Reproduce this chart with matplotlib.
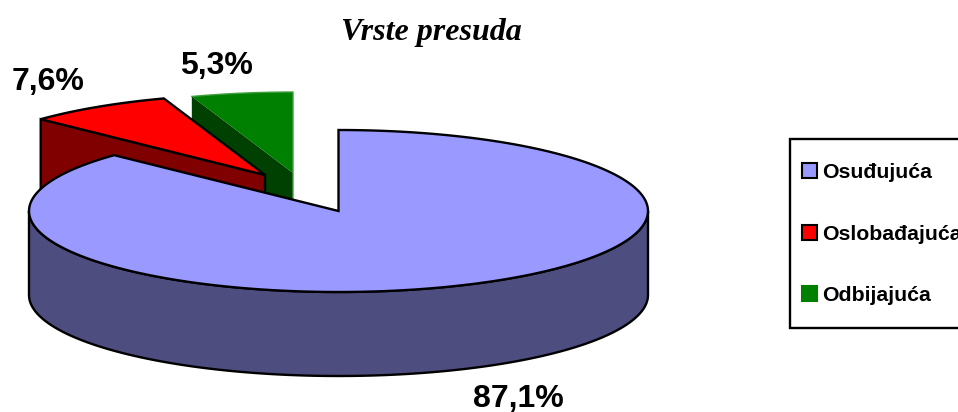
import numpy as np
import matplotlib.pyplot as plt
from matplotlib.patches import Patch, Polygon, Rectangle

categories = ["Osuđujuća", "Oslobađajuća", "Odbijajuća"]
values = [87.1, 7.6, 5.3]
value_labels = ["87,1%", "7,6%", "5,3%"]

top_colors = ["#9999FF", "#FF0000", "#008000"]
side_colors = ["#4D4D80", "#800000", "#004000"]
GREEN_EDGE = "#3F9F3F"

# pie geometry, in pixels of the picture
CX, CY = 338.5, 211
RX, RY = 309.5, 81
DEPTH = 84
offsets = [(0, 0), (-73.5, -36), (-45.5, -38)]
label_pos = [(518, 399), (48, 82), (216, 66)]

plt.rcParams["font.family"] = ["Liberation Sans", "DejaVu Sans"]

fig = plt.figure(figsize=(9.58, 4.12), dpi=100)
ax = fig.add_axes([0, 0, 1, 1])
ax.set_xlim(0, 958)
ax.set_ylim(412, 0)
ax.axis("off")


def rim(theta, dx, dy, down=0):
    # theta is clockwise from 12 o'clock, in degrees
    t = np.radians(theta)
    return np.column_stack([CX + dx + RX * np.sin(t), CY + dy + down - RY * np.cos(t)])


edges = np.cumsum([0] + values) / sum(values) * 360

# back slices first, the big one goes over them
for i in [2, 1, 0]:
    start, end = edges[i], edges[i + 1]
    dx, dy = offsets[i]
    apex = np.array([[CX + dx, CY + dy]])
    edge = "none" if i == 2 else "black"
    z = 3 - i

    if i == 0:
        arc = np.linspace(90, 270, 200)
        side = np.vstack([rim(arc, dx, dy), rim(arc[::-1], dx, dy, DEPTH)])
    else:
        side = np.vstack([rim(start, dx, dy), apex, apex + [0, DEPTH], rim(start, dx, dy, DEPTH)])
    ax.add_patch(Polygon(side, closed=True, facecolor=side_colors[i], edgecolor=edge, lw=1.7, zorder=z))

    arc = np.linspace(start, end, 200)
    top = np.vstack([apex, rim(arc, dx, dy)])
    ax.add_patch(Polygon(top, closed=True, facecolor=top_colors[i], edgecolor=edge, lw=1.7,
                         joinstyle="miter", zorder=z))

    if i == 2:
        # the green slice only has a thin light outline on its outer side
        outline = np.vstack([rim(arc, dx, dy), apex, apex + [0, DEPTH]])
        ax.plot(outline[:, 0], outline[:, 1], color=GREEN_EDGE, lw=1, zorder=z)

for label, (x, y) in zip(value_labels, label_pos):
    ax.text(x, y, label, ha="center", va="center", fontsize=23, fontweight="bold")

ax.text(431, 32, "Vrste presuda", ha="center", va="center", fontsize=23,
        family="Liberation Serif", fontweight="bold", style="italic")

# box runs off the right side of the picture, same as the original
ax.add_patch(Rectangle((790, 139), 200, 189, facecolor="white", edgecolor="black", lw=1.7, zorder=4))

handles = [
    Patch(facecolor=c, edgecolor=e, lw=1.5) for c, e in zip(top_colors, ["black", "black", "#008000"])
]
leg = ax.legend(handles, categories, loc="upper left", bbox_to_anchor=(802, 163),
                bbox_transform=ax.transData, borderaxespad=0, frameon=False,
                handlelength=0.7, handleheight=0.7, handletextpad=0.25,
                labelspacing=2.0, borderpad=0,
                prop={"size": 15.3, "weight": "bold"})
leg.set_zorder(5)

fig.savefig("out.png", dpi=100)
